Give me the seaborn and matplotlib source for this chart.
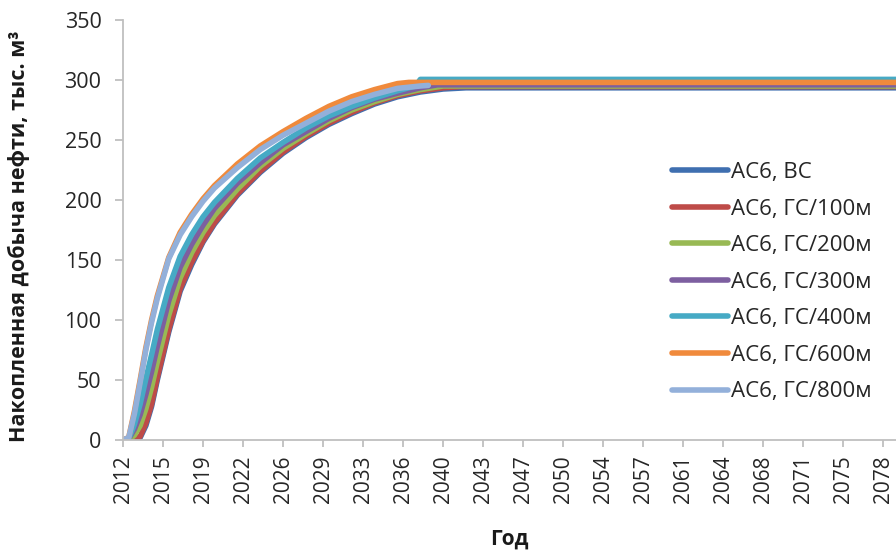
import matplotlib
matplotlib.use("Agg")
import matplotlib.pyplot as plt
import pandas as pd
import seaborn as sns

# Cumulative oil production per well design, thousand m³
series_names = ["АС6, ВС", "АС6, ГС/100м", "АС6, ГС/200м", "АС6, ГС/300м",
                "АС6, ГС/400м", "АС6, ГС/600м", "АС6, ГС/800м"]
series_colors = ["#3F6FB0", "#BE4B48", "#98B954", "#7D5FA0",
                 "#46AAC5", "#F08A3C", "#93B0DA"]

years_rise = [2012.0, 2012.5, 2013.0, 2013.5, 2014.0, 2014.5, 2015.0, 2016.0,
              2017.0, 2018.0, 2019.0, 2020.0, 2022.0, 2024.0, 2026.0, 2028.0,
              2030.0, 2032.0, 2034.0, 2036.0]

vs_vals = [0, 0, 0, 2, 12, 28, 50, 90, 124, 146, 165, 180, 204, 223, 239, 252, 263, 272, 280, 286]
vs_tail_years = [2038, 2040, 2042, 2080]
vs_tail_vals = [290, 292.5, 293.5, 293.5]

gs100_vals = [0, 0, 0, 3, 14, 30, 52, 92, 126, 148, 166, 181, 205, 224, 240, 253, 264, 273, 281, 287]
gs100_tail_years = [2038, 2040, 2041.5, 2080]
gs100_tail_vals = [291, 293.5, 294.5, 294.5]

gs200_vals = [0, 0, 4, 12, 26, 44, 65, 104, 135, 156, 173, 187, 209, 228, 243, 255, 266, 275, 282, 288]
gs200_tail_years = [2038, 2040, 2080]
gs200_tail_vals = [292, 295, 295]

gs300_vals = [0, 1, 9, 21, 38, 57, 78, 116, 144, 163, 179, 193, 214, 231, 246, 257, 268, 277, 284, 289]
gs300_tail_years = [2038, 2039.5, 2080]
gs300_tail_vals = [293.5, 296, 296]

gs400_vals = [0, 1, 13, 30, 51, 71, 92, 127, 153, 171, 186, 198, 218, 235, 248, 260, 270, 278, 285, 291]
gs400_tail_years = [2037.6, 2038.0, 2080]
gs400_tail_vals = [295, 300.5, 300.5]

gs600_vals = [0, 2, 24, 50, 77, 100, 120, 152, 173, 188, 201, 212, 230, 245, 257, 268, 278, 286, 292, 297]
gs600_tail_years = [2037, 2080]
gs600_tail_vals = [298, 298]

gs800_vals = [0, 2, 22, 48, 75, 98, 118, 151, 171, 186, 199, 210, 227, 242, 254, 264, 274, 282, 288, 293]
gs800_tail_years = [2038, 2038.7]
gs800_tail_vals = [295, 295.5]

tick_years = [2012, 2015, 2019, 2022, 2026, 2029, 2033, 2036, 2040, 2043,
              2047, 2050, 2054, 2057, 2061, 2064, 2068, 2071, 2075, 2078]
y_ticks = [0, 50, 100, 150, 200, 250, 300, 350]

all_vals = [vs_vals, gs100_vals, gs200_vals, gs300_vals, gs400_vals, gs600_vals, gs800_vals]
all_tail_years = [vs_tail_years, gs100_tail_years, gs200_tail_years, gs300_tail_years,
                  gs400_tail_years, gs600_tail_years, gs800_tail_years]
all_tail_vals = [vs_tail_vals, gs100_tail_vals, gs200_tail_vals, gs300_tail_vals,
                 gs400_tail_vals, gs600_tail_vals, gs800_tail_vals]

rows = []
for name, vals, ty, tv in zip(series_names, all_vals, all_tail_years, all_tail_vals):
    for x, y in zip(years_rise + ty, vals + tv):
        rows.append({"year": x, "value": y, "series": name})
df = pd.DataFrame(rows)

sns.set_theme(style="white")
plt.rcParams["font.family"] = ["Open Sans", "DejaVu Sans"]

fig = plt.figure(figsize=(8.96, 5.51), dpi=100)
ax = fig.add_axes([123 / 896, 111 / 551, 773 / 896, 420 / 551])

sns.lineplot(data=df, x="year", y="value", hue="series", hue_order=series_names,
             palette=series_colors, linewidth=4, estimator=None, sort=True,
             ax=ax, legend=True)

# Tick positions fall every 3.5 years of the category axis
tick_pos = [2012 + 3.5 * i for i in range(len(tick_years))]
ax.set_xticks(tick_pos)
ax.set_xticklabels([str(t) for t in tick_years], rotation=90)
ax.set_yticks(y_ticks)
ax.set_xlim(2012, 2079.6)
ax.set_ylim(0, 350)

axis_color = "#BFBFBF"
for side in ["top", "right"]:
    ax.spines[side].set_visible(False)
for side in ["left", "bottom"]:
    ax.spines[side].set_color(axis_color)
    ax.spines[side].set_linewidth(1.3)
ax.tick_params(axis="y", direction="out", length=5.5, width=1.3, color=axis_color,
               pad=10, labelsize=15.5, labelcolor="#262626", left=True)
ax.tick_params(axis="x", direction="out", length=5, width=1.3, color=axis_color,
               pad=6, labelsize=15, labelcolor="#262626", bottom=True)

ax.set_ylabel("Накопленная добыча нефти, тыс. м³", fontsize=15.5, fontweight="bold",
              color="#1a1a1a")
ax.yaxis.set_label_coords(-0.12, 0.485)
ax.set_xlabel("Год", fontsize=15, fontweight="bold", color="#1a1a1a", va="top")
ax.xaxis.set_label_coords(0.5, -0.21)

handles, labels = ax.get_legend_handles_labels()
ax.get_legend().remove()
for h in handles:
    h.set_linewidth(4)
ax.legend(handles, labels, loc="upper left", bbox_to_anchor=(672 / 896, 1 - 162 / 551),
          bbox_transform=fig.transFigure, frameon=False, fontsize=16,
          handlelength=2.5, handletextpad=0.14, labelspacing=0.7,
          borderpad=0, borderaxespad=0, labelcolor="#262626")

fig.savefig("out.png", dpi=100)
